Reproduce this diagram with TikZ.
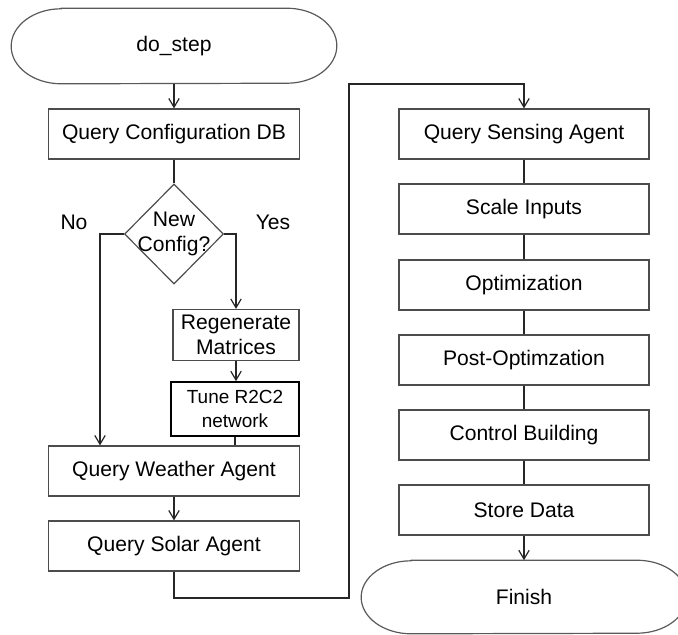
\documentclass[tikz,border=0pt]{standalone}
\usepackage{fontspec}
\setmainfont{Liberation Sans}
\usepackage{tikz}
\usetikzlibrary{arrows.meta,shapes.geometric,calc,positioning}
\tikzset{>={Straight Barb[length=2.2mm,width=2.6mm]}}

\begin{document}
\begin{tikzpicture}[x=0.025cm,y=-0.025cm,font=\fontsize{15}{18}\selectfont]

        % Setup the styles for the blocks
        \tikzset{term style/.style={rectangle,
                                    minimum width=8.125cm,
                                    minimum height=1.875cm},
                 term line/.style={line width=0.3mm, draw=black!65},
                 box style/.style={rectangle,
                                   minimum width=6.275cm,
                                   minimum height=1.25cm,
                                   line width=0.3mm,
                                   draw=black!70},
                 small style/.style={rectangle,
                                     minimum width=3.15cm,
                                     minimum height=1.275cm,
                                     inner sep=1pt,
                                     align=center,
                                     line width=0.3mm,
                                     draw=black!70},
                 test style/.style={diamond,
                                    aspect=1,
                                    minimum width=2.475cm,
                                    minimum height=2.5cm,
                                    inner sep=0pt,
                                    align=center,
                                    line width=0.3mm,
                                    draw=black!70},
                 link/.style={line width=0.3mm, draw=black!85}}

        \useasboundingbox (0,0) rectangle (678,634);

        % Draw the left column
        \node[term style] at (174, 46)  (start)    {do\_step};
        \node[box style]  at (174, 134) (qcfg)     {Query Configuration DB};
        \node[test style] at (174, 234) (cfg)      {\makebox[0pt][c]{New}\\\makebox[0pt][c]{Config?}};
        \node             at (74, 222)  (no)       {No};
        \node             at (273, 222) (yes)      {Yes};
        \node[small style] at (236, 335) (regen)   {Regenerate\\Matrices};
        \node[small style, minimum width=3.2cm, minimum height=1.35cm,
              draw=black, line width=0.4mm,
              font=\fontsize{13.5}{17}\selectfont] at (235, 409) (tune) {Tune R2C2\\network};
        \node[box style]  at (174, 471) (qweather) {Query Weather Agent};
        \node[box style]  at (174, 546) (qsolar)   {Query Solar Agent};

        % Draw the right column
        \node[box style, minimum width=6.25cm] at (524, 134) (qsense)  {Query Sensing Agent};
        \node[box style, minimum width=6.25cm] at (524, 209) (scale)   {Scale Inputs};
        \node[box style, minimum width=6.25cm] at (524, 285) (opt)     {Optimization};
        \node[box style, minimum width=6.25cm] at (524, 360) (postopt) {Post-Optimzation};
        \node[box style, minimum width=6.25cm] at (524, 435) (ctrl)    {Control Building};
        \node[box style, minimum width=6.25cm] at (524, 510) (store)   {Store Data};
        \node[term style, minimum height=1.825cm] at (524, 597) (finish) {Finish};

        % Outline the terminators with flat ends
        \foreach \t/\r in {start/0.9375cm, finish/0.9125cm}
            \draw[term line] ($(\t.north west)+(50,0)$) -- ($(\t.north east)+(-50,0)$)
                arc[start angle=90, end angle=-90, x radius=1.25cm, y radius=\r]
                -- ($(\t.south west)+(50,0)$)
                arc[start angle=270, end angle=90, x radius=1.25cm, y radius=\r] -- cycle;

        % Bends of the connectors
        \coordinate (nobend) at (100, 234);
        \coordinate (downturn) at (349, 598);
        \coordinate (upturn) at (349, 84);

        % Connect the blocks
        \draw[link, ->] (start) -- (qcfg);
        \draw[link] (qcfg) -- (cfg);
        \draw[link, ->] (cfg.west) -- (nobend) -- (nobend |- qweather.north);
        \draw[link, ->] (cfg.east) -| (regen.north);
        \draw[link, ->] (regen.south) -- (regen.south |- tune.north);
        \draw[link] (tune.south) -- (tune.south |- qweather.north);
        \draw[link, ->] (qweather) -- (qsolar);
        \draw[link, ->] (qsolar.south) |- (downturn) -- (upturn) -| (qsense.north);
        \foreach \a/\b in {qsense/scale, scale/opt, opt/postopt, postopt/ctrl, ctrl/store}
            \draw[link] (\a) -- (\b);
        \draw[link, ->] (store) -- (finish);
\end{tikzpicture}
\end{document}
